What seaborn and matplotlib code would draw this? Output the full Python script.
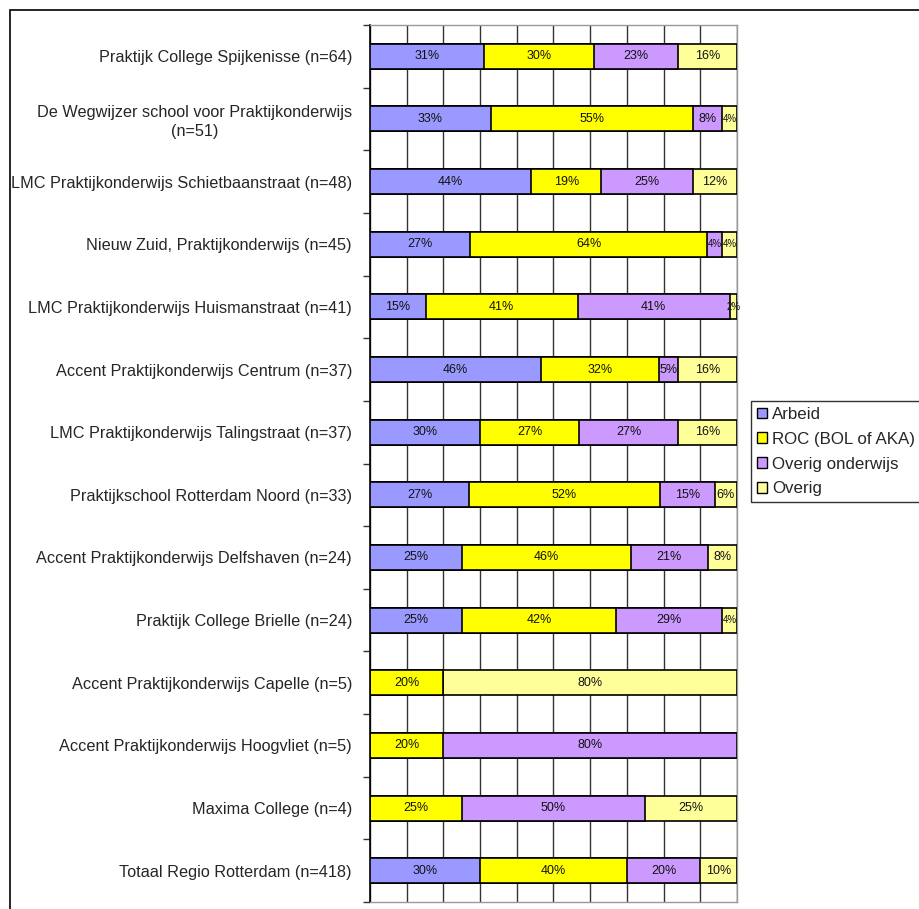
import numpy as np
import pandas as pd
import matplotlib
matplotlib.use("Agg")
import matplotlib.pyplot as plt
import seaborn as sns
from matplotlib.patches import Patch, Rectangle
from matplotlib.ticker import FixedLocator

# Data (percentages per school)
scholen = [
    "Praktijk College Spijkenisse (n=64)",
    "De Wegwijzer school voor Praktijkonderwijs\n(n=51)",
    "LMC Praktijkonderwijs Schietbaanstraat (n=48)",
    "Nieuw Zuid, Praktijkonderwijs (n=45)",
    "LMC Praktijkonderwijs Huismanstraat (n=41)",
    "Accent Praktijkonderwijs Centrum (n=37)",
    "LMC Praktijkonderwijs Talingstraat (n=37)",
    "Praktijkschool Rotterdam Noord (n=33)",
    "Accent Praktijkonderwijs Delfshaven (n=24)",
    "Praktijk College Brielle (n=24)",
    "Accent Praktijkonderwijs Capelle (n=5)",
    "Accent Praktijkonderwijs Hoogvliet (n=5)",
    "Maxima College (n=4)",
    "Totaal Regio Rotterdam (n=418)",
]
arbeid = [31, 33, 44, 27, 15, 46, 30, 27, 25, 25, 0, 0, 0, 30]
roc = [30, 55, 19, 64, 41, 32, 27, 52, 46, 42, 20, 20, 25, 40]
overig_onderwijs = [23, 8, 25, 4, 41, 5, 27, 15, 21, 29, 0, 80, 50, 20]
overig = [16, 4, 12, 4, 2, 16, 16, 6, 8, 4, 80, 0, 25, 10]

reeksen = ["Arbeid", "ROC (BOL of AKA)", "Overig onderwijs", "Overig"]
kleuren = ["#9999FF", "#FFFF00", "#CC99FF", "#FFFF99"]

df = pd.DataFrame({
    "School": scholen,
    "Arbeid": arbeid,
    "ROC (BOL of AKA)": roc,
    "Overig onderwijs": overig_onderwijs,
    "Overig": overig,
})
totaal = df[reeksen].sum(axis=1)
aandeel = df[reeksen].div(totaal, axis=0) * 100
cum = aandeel.cumsum(axis=1)

sns.set_style("white")
plt.rcParams["font.family"] = ["Liberation Sans", "DejaVu Sans"]

fig = plt.figure(figsize=(9.2, 9.09), dpi=100)
ax = fig.add_axes([370 / 920, 1 - 902 / 909, 367 / 920, 877 / 909])

# gestapelde balken: cumulatieve sommen van achter naar voren tekenen
for reeks, kleur in reversed(list(zip(reeksen, kleuren))):
    sns.barplot(x=cum[reeks], y=df["School"], order=scholen, color=kleur,
                width=0.4, edgecolor="black", linewidth=1.2, orient="h",
                saturation=1, ax=ax, zorder=3)

# percentage labels (smalle stukjes iets kleiner, anders overlappen ze)
for i in range(len(scholen)):
    links = 0
    for reeks in reeksen:
        w = aandeel.loc[i, reeks]
        v = df.loc[i, reeks]
        if v > 0:
            ax.text(links + w / 2, i, f"{v}%", ha="center", va="center",
                    fontsize=9 if v > 4 else 7, color="#111111", zorder=4)
        links += w

ax.set_xlim(0, 100)
ax.set_ylim(len(scholen) - 0.5, -0.5)
ax.set_xticks(np.arange(0, 101, 10))
ax.set_xticklabels([])
ax.tick_params(axis="x", length=0)
ax.grid(axis="x", color="#333333", linewidth=1)
ax.set_axisbelow(True)
ax.set_xlabel("")
ax.set_ylabel("")

ax.yaxis.set_minor_locator(FixedLocator(np.arange(-0.5, len(scholen), 1)))
ax.tick_params(axis="y", which="major", length=0, pad=13, labelsize=11.7)
ax.tick_params(axis="y", which="minor", length=5, width=1, color="#333333", left=True)
for lbl in ax.get_yticklabels():
    lbl.set_multialignment("center")
    lbl.set_linespacing(1.3)

ax.spines["left"].set_color("black")
ax.spines["left"].set_linewidth(1.2)
for s in ["top", "right", "bottom"]:
    ax.spines[s].set_color("#999999")
    ax.spines[s].set_linewidth(1)

handles = [Patch(facecolor=k, edgecolor="black", linewidth=1) for k in kleuren]
leg = fig.legend(handles, reeksen, loc="upper left",
                 bbox_to_anchor=(751 / 920, 1 - 401 / 909), frameon=True,
                 fancybox=False, edgecolor="black", fontsize=12.2,
                 handlelength=0.6, handleheight=0.6, handletextpad=0.3,
                 borderpad=0.35, labelspacing=0.58, borderaxespad=0)
leg.get_frame().set_linewidth(1)

# buitenrand van de grafiek
fig.patches.append(Rectangle((10 / 920, -0.05), 1.0, 1 - 10 / 909 + 0.05,
                             transform=fig.transFigure, fill=False,
                             edgecolor="black", linewidth=1.2))

fig.savefig("out.png", dpi=100)
